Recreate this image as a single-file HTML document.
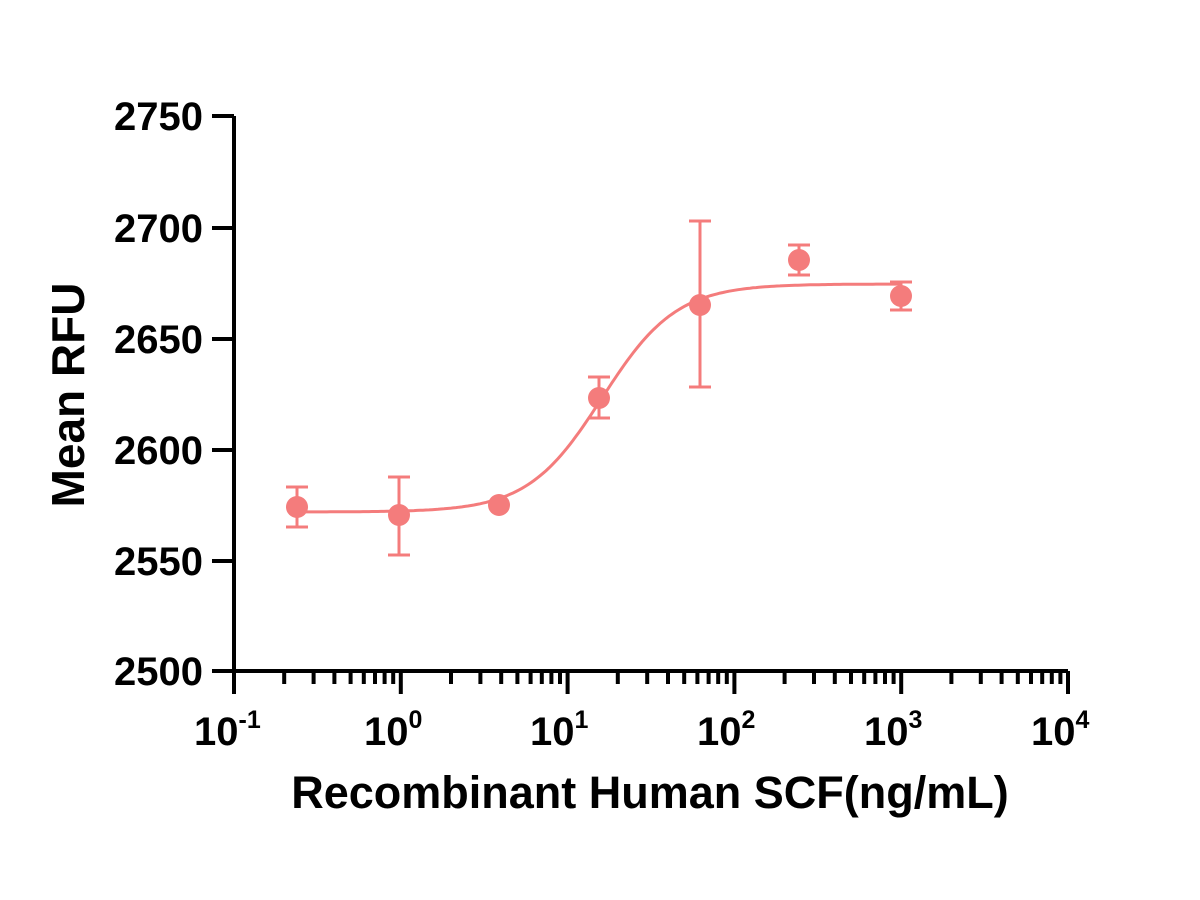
<!DOCTYPE html>
<html><head><meta charset="utf-8"><style>body{margin:0;background:#fff}svg{display:block}</style></head>
<body>
<svg id="s" width="1200" height="900" xmlns="http://www.w3.org/2000/svg" font-family="Liberation Sans, sans-serif" font-weight="bold">
<rect width="1200" height="900" fill="#fff"/>
<g id="ax" stroke="#000" stroke-width="4" fill="none"></g>
<g font-size="40" text-anchor="end" fill="#000">
<text x="203" y="130">2750</text>
<text x="203" y="242">2700</text>
<text x="203" y="353">2650</text>
<text x="203" y="464">2600</text>
<text x="203" y="575">2550</text>
<text x="203" y="685">2500</text>
</g>
<g font-size="40" fill="#000">
<text x="194" y="745">10<tspan font-size="25" dy="-17">-1</tspan></text>
<text x="364" y="745">10<tspan font-size="25" dy="-17">0</tspan></text>
<text x="530" y="745">10<tspan font-size="25" dy="-17">1</tspan></text>
<text x="697" y="745">10<tspan font-size="25" dy="-17">2</tspan></text>
<text x="864" y="745">10<tspan font-size="25" dy="-17">3</tspan></text>
<text x="1031" y="745">10<tspan font-size="25" dy="-17">4</tspan></text>
</g>
<text x="650" y="808" font-size="45" text-anchor="middle">Recombinant Human SCF(ng/mL)</text>
<text transform="translate(84,395) rotate(-90)" font-size="46" text-anchor="middle">Mean RFU</text>
<path id="curve" fill="none" stroke="#F47C7C" stroke-width="3"/>
<g id="pts" stroke="#F47C7C" stroke-width="3" fill="#F47C7C"></g>
</svg>
<script>
var ax=document.getElementById('ax'),d='M234,116V671H1068';
[116,228,339,450,561,671].forEach(function(y){d+='M212,'+y+'H234';});
for(var k=0;k<6;k++){var x0=234+166.8*k;d+='M'+x0+',671V694';
 if(k<5)for(var m=2;m<10;m++){var x=x0+166.8*Math.log10(m);d+='M'+x.toFixed(1)+',671V684';}}
ax.innerHTML='<path d="'+d+'"/>';
var c='';for(var x=297;x<=901;x+=3){var f=1/(1+Math.pow(10,-(x-602)/166.8*1.95));var y=512-228*f;c+=(x==297?'M':'L')+x+','+y.toFixed(1);}
document.getElementById('curve').setAttribute('d',c);
var P=[[297,507,487,527],[399,515,477,555],[499,505,505,505],[599,398,377,418],[700,305,221,387],[799,260,245,275],[901,296,282,310]];
var g='';P.forEach(function(p){if(p[2]!=p[3])g+='<path fill="none" d="M'+p[0]+','+p[2]+'V'+p[3]+'M'+(p[0]-11)+','+p[2]+'H'+(p[0]+11)+'M'+(p[0]-11)+','+p[3]+'H'+(p[0]+11)+'"/>';g+='<circle cx="'+p[0]+'" cy="'+p[1]+'" r="11" stroke="none"/>';});
document.getElementById('pts').innerHTML=g;
</script>
</body></html>
